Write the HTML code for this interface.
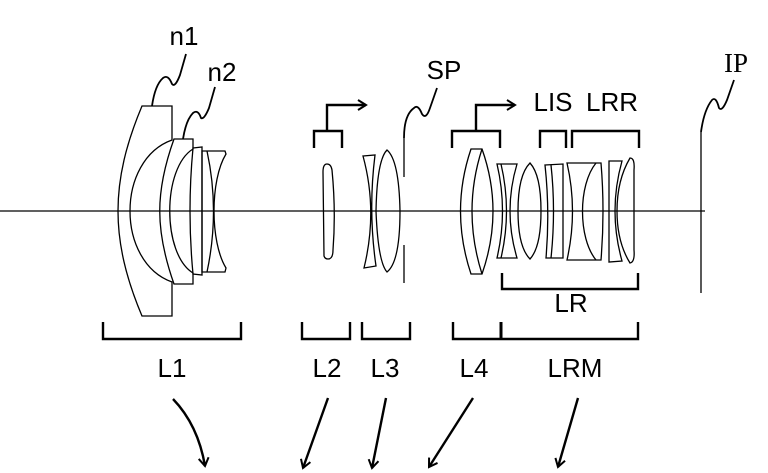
<!DOCTYPE html>
<html><head><style>html,body{margin:0;padding:0;background:#fff}svg{display:block}</style></head>
<body>
<svg width="768" height="473" viewBox="0 0 768 473" xmlns="http://www.w3.org/2000/svg">
<defs><marker id="ah" markerWidth="12" markerHeight="12" refX="9" refY="6" orient="auto" markerUnits="userSpaceOnUse"><path d="M1,1 L9,6 L1,11" fill="none" stroke="#000" stroke-width="2"/></marker></defs>
<g fill="none" stroke="#000" stroke-width="1.3">
<line x1="0" y1="211" x2="705" y2="211"/>
<path d="M142,106 L172,106 L172,140 C116,160 116,262 172,282 L172,316 L142,316 C110,240 110,182 142,106 Z"/>
<path d="M174,139 L193,139 L193,149 C162,168 162,254 193,273 L193,284 L174,284 C155,230 155,192 174,139 Z"/>
<path d="M193,148 L202,147 L202,275 L193,274 Q187,211 193,148 Z"/>
<path d="M202,151 L225,151 L226,154 C210,180 210,242 226,268 L225,272 L202,272 Z"/>
<path d="M207,151 Q220,211 207,272"/>
<path d="M327,164 Q323,164 323,172 L324,256 Q325,259 328,259 Q333,259 333,250 Q336,211 332,170 Q331,164 327,164 Z"/>
<path d="M363,156 L375,155 Q368,211 376,266 L364,268 Q378,211 363,156 Z"/>
<path d="M387,150 Q377,160 376,211 Q378,262 387,272 Q400,262 400,211 Q399,160 387,150 Z"/>
<line x1="404" y1="138" x2="404" y2="177"/>
<line x1="404" y1="245" x2="404" y2="283"/>
<path d="M404,138 Q404,115 414,108 Q418,104 422,114 Q426,120 430,108 L437,88" stroke-width="1.8"/>
<path d="M471,149 L482,149 Q504,211 482,274 L471,274 Q450,211 471,149 Z"/>
<path d="M482,149 Q462,211 482,274"/>
<path d="M497,164 L517,164 Q503,211 517,258 L497,258 Q508,211 497,164 Z"/>
<path d="M501,164 Q512,211 501,258"/>
<path d="M530,163 Q518,175 518,211 Q518,247 530,259 Q541,247 541,211 Q541,175 530,163 Z"/>
<path d="M545,165 L563,164 L563,258 L546,258 Q550,211 545,165 Z"/>
<path d="M551,165 Q556,211 551,258"/>
<path d="M567,163 L601,163 Q605,211 601,260 L567,260 Q578,211 567,163 Z"/>
<path d="M596,163 C578,185 578,238 596,260"/>
<path d="M609,161 L622,161 Q608,211 622,261 L609,262 Z"/>
<path d="M630,158 Q617,180 617,211 Q617,242 630,263 Q635,262 634,250 L634,170 Q635,158 630,158 Z"/>
<line x1="701" y1="132" x2="701" y2="293"/>
<path d="M701,132 Q704,110 712,100 Q716,96 719,108 Q722,112 727,100 L734,80" stroke-width="1.8"/>
<path d="M152,106 Q155,85 163,78 Q168,74 172,84 Q175,88 180,75 L186,54" stroke-width="1.8"/>
<path d="M183,139 Q186,120 193,113 Q198,109 201,118 Q204,120 209,108 L215,87" stroke-width="1.8"/>
</g>
<g fill="none" stroke="#000" stroke-width="2.4">
<path d="M314,148 L314,131 L342,131 L342,148"/>
<path d="M327,131 L327,105 L366,105" marker-end="url(#ah)"/>
<path d="M452,148 L452,131 L500,131 L500,148"/>
<path d="M476,131 L476,105 L515,105" marker-end="url(#ah)"/>
<path d="M540,148 L540,131 L566,131 L566,148"/>
<path d="M572,148 L572,131 L639,131 L639,148"/>
<path d="M502,273 L502,289 L638,289 L638,273"/>
<path d="M103,322 L103,339 L241,339 L241,322"/>
<path d="M302,322 L302,339 L350,339 L350,322"/>
<path d="M362,322 L362,339 L410,339 L410,322"/>
<path d="M453,322 L453,339 L638,339 L638,322"/>
<line x1="501" y1="322" x2="501" y2="339" stroke-width="3"/>
<path d="M173,399 Q198,425 205,466" marker-end="url(#ah)"/>
<path d="M328,398 L303,468" marker-end="url(#ah)"/>
<path d="M386,398 L372,468" marker-end="url(#ah)"/>
<path d="M473,398 L429,467" marker-end="url(#ah)"/>
<path d="M578,398 L558,467" marker-end="url(#ah)"/>
</g>
<g font-family="'Liberation Sans', sans-serif" font-size="26" fill="#000" text-anchor="middle">
<text x="184" y="45">n1</text>
<text x="222" y="81">n2</text>
<text x="444" y="79">SP</text>
<text x="553" y="111">LIS</text>
<text x="612" y="111">LRR</text>
<text x="571" y="312">LR</text>
<text x="172" y="377">L1</text>
<text x="327" y="377">L2</text>
<text x="385" y="377">L3</text>
<text x="474" y="377">L4</text>
<text x="575" y="377">LRM</text>
</g>
<text x="736" y="72" font-family="'Liberation Serif', serif" font-size="27" fill="#000" text-anchor="middle">IP</text>
</svg>
</body></html>
